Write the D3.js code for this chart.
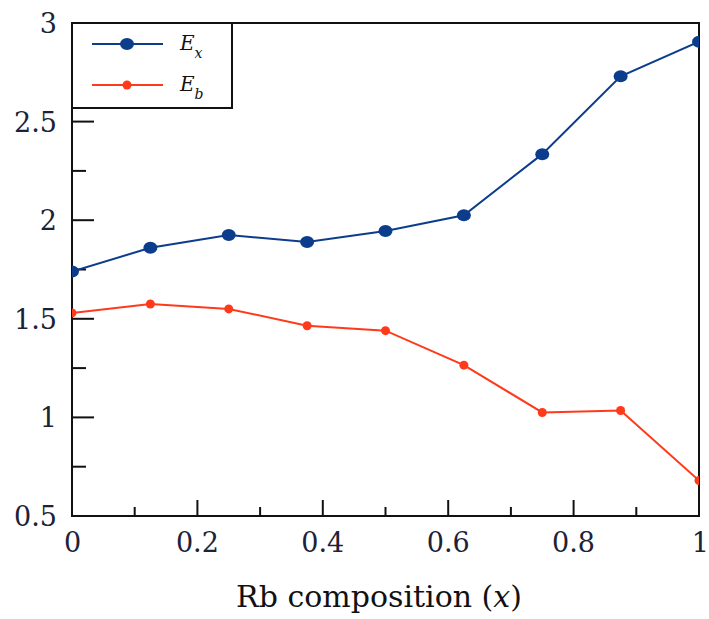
<!DOCTYPE html>
<html>
<head>
<meta charset="utf-8">
<script src="https://cdn.jsdelivr.net/npm/d3@7"></script>
<style>
  body { margin: 0; background: #fff; }
  text { font-family: "DejaVu Serif", "Liberation Serif", serif; }
</style>
</head>
<body>
<script>
// composition values
var comp = [0, 0.125, 0.25, 0.375, 0.5, 0.625, 0.75, 0.875, 1];
var ex = [1.74, 1.86, 1.925, 1.89, 1.945, 2.025, 2.335, 2.73, 2.905];
var eb = [1.53, 1.575, 1.55, 1.465, 1.44, 1.265, 1.025, 1.035, 0.68];
var xTicks = [0, 0.2, 0.4, 0.6, 0.8, 1];
var yTicks = [0.5, 1, 1.5, 2, 2.5, 3];

var W = 709, H = 619;
var pl = 72, pr = 699, pt = 23, pb = 516; // plot box
var blue = "#0b3d8c", red = "#ff3a1a";

var svg = d3.select("body").append("svg").attr("width", W).attr("height", H);

var x = d3.scaleLinear().domain([0, 1]).range([pl, pr]);
var y = d3.scaleLinear().domain([0.5, 3]).range([pb, pt]);

// frame
svg.append("rect")
  .attr("x", pl).attr("y", pt)
  .attr("width", pr - pl).attr("height", pb - pt)
  .attr("fill", "none").attr("stroke", "#111").attr("stroke-width", 2);

// ticks, inward
var g = svg.append("g").attr("stroke", "#111").attr("stroke-width", 2);
d3.range(0, 11).forEach(function(i) {
  if (i === 0 || i === 10) return;
  var v = i / 10;
  var len = (i % 2 === 0) ? 16 : 9;
  g.append("line").attr("x1", x(v)).attr("x2", x(v))
    .attr("y1", pb).attr("y2", pb - len);
});
d3.range(0, 11).forEach(function(i) {
  if (i === 0 || i === 10) return;
  var v = 0.5 + i * 0.25;
  var len = (i % 2 === 0) ? 22 : 14;
  g.append("line").attr("x1", pl).attr("x2", pl + len)
    .attr("y1", y(v)).attr("y2", y(v));
});

// tick labels
svg.selectAll(".xl").data(xTicks).enter().append("text")
  .attr("x", function(d) { return x(d); })
  .attr("y", 552)
  .attr("text-anchor", function(d) { return d === 1 ? "end" : (d === 0 ? "start" : "middle"); })
  .attr("dx", function(d) { return d === 0 ? -8 : (d === 1 ? 10 : 0); })
  .attr("font-size", 27).attr("fill", "#1c2238")
  .text(function(d) { return d3.format("")(d); });

svg.selectAll(".yl").data(yTicks).enter().append("text")
  .attr("x", 57)
  .attr("y", function(d) { return y(d) + 10; })
  .attr("text-anchor", "end")
  .attr("font-size", 27).attr("fill", "#1c2238")
  .text(function(d) { return d3.format("")(d); });

// axis title
var t = svg.append("text").attr("x", 379).attr("y", 607)
  .attr("text-anchor", "middle").attr("font-size", 30).attr("fill", "#111");
t.append("tspan").text("Rb composition (");
t.append("tspan").attr("font-style", "italic").text("x");
t.append("tspan").text(")");

// series
var line = d3.line()
  .x(function(d, i) { return x(comp[i]); })
  .y(function(d) { return y(d); });

svg.append("clipPath").attr("id", "clip").append("rect")
  .attr("x", pl).attr("y", pt).attr("width", pr - pl).attr("height", pb - pt);

var plot = svg.append("g").attr("clip-path", "url(#clip)");

plot.append("path").datum(ex).attr("d", line)
  .attr("fill", "none").attr("stroke", blue).attr("stroke-width", 2);
plot.selectAll(".mx").data(ex).enter().append("ellipse")
  .attr("cx", function(d, i) { return x(comp[i]); })
  .attr("cy", function(d) { return y(d); })
  .attr("rx", 7).attr("ry", 6).attr("fill", blue);

plot.append("path").datum(eb).attr("d", line)
  .attr("fill", "none").attr("stroke", red).attr("stroke-width", 2);
plot.selectAll(".mb").data(eb).enter().append("circle")
  .attr("cx", function(d, i) { return x(comp[i]); })
  .attr("cy", function(d) { return y(d); })
  .attr("r", 4.5).attr("fill", red);

// legend
var lg = svg.append("g");
lg.append("rect").attr("x", pl).attr("y", pt).attr("width", 160).attr("height", 85)
  .attr("fill", "#fff").attr("stroke", "#111").attr("stroke-width", 2);
var items = [{c: blue, sub: "x", rx: 7, ry: 6, y: 44}, {c: red, sub: "b", rx: 4.5, ry: 4.5, y: 85}];
items.forEach(function(it) {
  lg.append("line").attr("x1", 92).attr("x2", 163).attr("y1", it.y).attr("y2", it.y)
    .attr("stroke", it.c).attr("stroke-width", 2);
  lg.append("ellipse").attr("cx", 127).attr("cy", it.y)
    .attr("rx", it.rx).attr("ry", it.ry).attr("fill", it.c);
  var tx = lg.append("text").attr("x", 180).attr("y", it.y + 6)
    .attr("font-size", 20).attr("font-style", "italic").attr("fill", "#111");
  tx.append("tspan").text("E");
  tx.append("tspan").attr("font-size", 14).attr("dy", 8).text(it.sub);
});
</script>
</body>
</html>
